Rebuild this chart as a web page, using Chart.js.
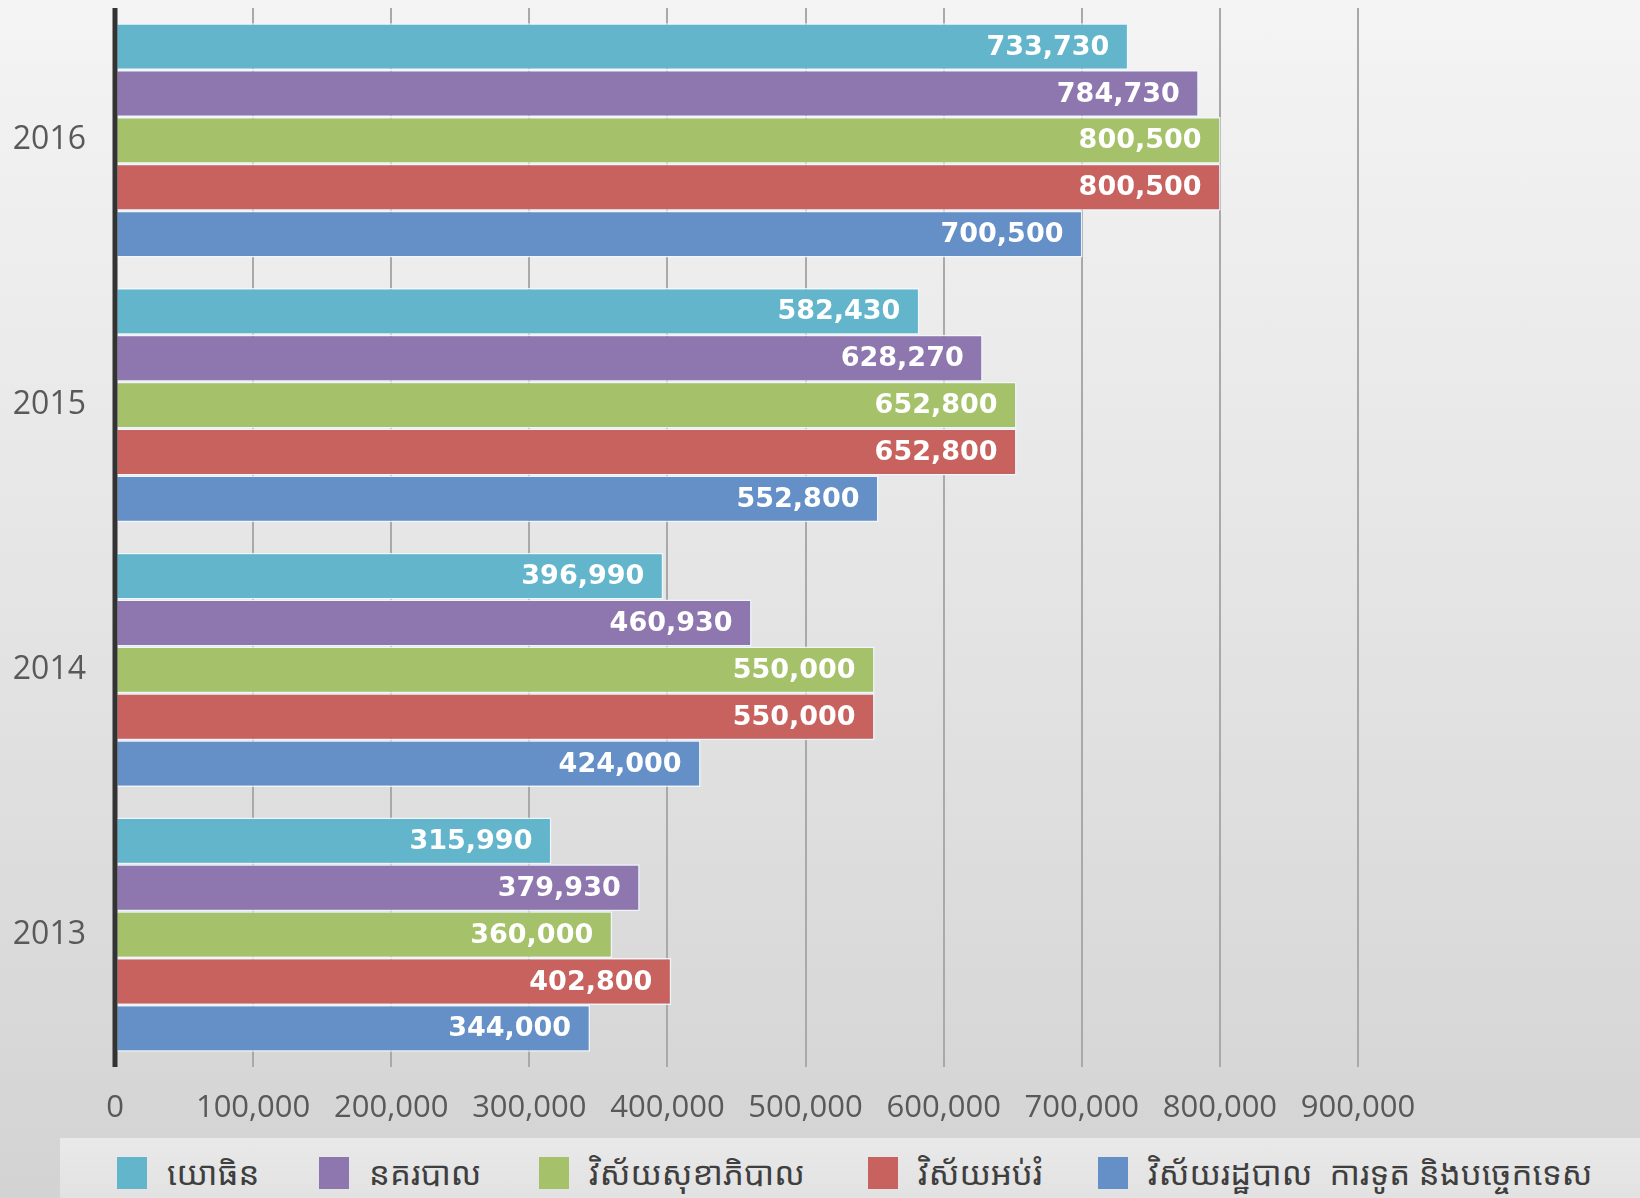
<!DOCTYPE html>
<html lang="km">
<head>
    <meta charset="UTF-8">
    <title>Budget by sector</title>
    <script src="https://cdn.jsdelivr.net/npm/chart.js@4.4.1/dist/chart.umd.min.js"></script>
    <style>
        html, body {
            margin: 0;
            padding: 0;
        }
        body {
            width: 1640px;
            height: 1198px;
            overflow: hidden;
            position: relative;
            background: linear-gradient(to bottom, #f4f4f4 0%, #e6e6e6 45%, #d3d3d3 100%);
        }
        .wrap {
            position: absolute;
            left: 0;
            top: 0;
            width: 1640px;
            height: 1138px;
        }
        .legend {
            position: absolute;
            left: 60px;
            top: 1138px;
            width: 1580px;
            height: 60px;
            background: linear-gradient(to bottom, #e9e9e9, #e2e2e2);
            font-family: "Noto Sans Khmer", "Khmer OS", "Noto Sans", sans-serif;
            font-size: 33px;
            color: #3f3f3f;
        }
        .legend .item {
            position: absolute;
            top: 12px;
            display: flex;
            align-items: center;
            white-space: pre;
        }
        .legend .box {
            width: 30px;
            height: 32px;
            margin-right: 20px;
        }
    </style>
</head>
<body>
    <div class="wrap"><canvas id="chart" width="1640" height="1138"></canvas></div>
    <div class="legend" id="legend"></div>

    <script>
        // years, top to bottom
        const years = ['2016', '2015', '2014', '2013'];
        const seriesNames = [
            'យោធិន',
            'នគរបាល',
            'វិស័យសុខាភិបាល',
            'វិស័យអប់រំ',
            'វិស័យរដ្ឋបាល  ការទូត និងបច្ចេកទេស'
        ];
        const military = [733730, 582430, 396990, 315990];
        const police = [784730, 628270, 460930, 379930];
        const health = [800500, 652800, 550000, 360000];
        const education = [800500, 652800, 550000, 402800];
        const admin = [700500, 552800, 424000, 344000];
        const colors = ['#62b5cb', '#8e76ae', '#a5c26a', '#c8625f', '#6490c7'];
        const legendLeft = [57, 259, 479, 808, 1038];

        const seriesData = [military, police, health, education, admin];

        // values written inside the bar ends, and the y axis line on top of the bars
        const valueLabels = {
            id: 'valueLabels',
            afterDatasetsDraw(chart) {
                const ctx = chart.ctx;
                const area = chart.chartArea;
                ctx.save();
                ctx.strokeStyle = '#333333';
                ctx.lineWidth = 5;
                ctx.beginPath();
                ctx.moveTo(area.left, area.top);
                ctx.lineTo(area.left, area.bottom);
                ctx.stroke();

                ctx.font = 'bold 27px "DejaVu Sans", sans-serif';
                ctx.fillStyle = '#ffffff';
                ctx.textAlign = 'right';
                ctx.textBaseline = 'middle';
                chart.data.datasets.forEach((ds, i) => {
                    chart.getDatasetMeta(i).data.forEach((bar, j) => {
                        ctx.fillText(ds.data[j].toLocaleString('en-US'), bar.x - 19, bar.y + 1);
                    });
                });
                ctx.restore();
            }
        };

        Chart.defaults.font.family = '"Open Sans", sans-serif';
        Chart.defaults.color = '#595959';

        new Chart(document.getElementById('chart'), {
            type: 'bar',
            data: {
                labels: years,
                datasets: seriesData.map((d, i) => ({
                    label: seriesNames[i],
                    data: d,
                    backgroundColor: colors[i],
                    borderColor: 'rgba(240, 248, 255, 0.9)',
                    borderWidth: 1.5,
                    borderSkipped: false,
                    categoryPercentage: 0.885,
                    barPercentage: 1.0
                }))
            },
            options: {
                indexAxis: 'y',
                responsive: false,
                animation: false,
                layout: {
                    padding: { top: 8, right: 282, bottom: 0, left: 0 }
                },
                plugins: {
                    legend: { display: false },
                    tooltip: { enabled: false }
                },
                scales: {
                    x: {
                        min: 0,
                        max: 900000,
                        ticks: {
                            stepSize: 100000,
                            padding: 23,
                            font: { size: 31 },
                            callback: v => v.toLocaleString('en-US')
                        },
                        grid: {
                            color: '#a9a9a9',
                            lineWidth: 2,
                            tickLength: 0
                        },
                        border: { display: false },
                        afterFit: s => { s.height = 71; }
                    },
                    y: {
                        ticks: {
                            padding: 21,
                            font: { size: 32 }
                        },
                        grid: { display: false },
                        border: { display: false },
                        afterFit: s => {
                            s.width = 115;
                            s.paddingTop = 0;
                            s.paddingBottom = 0;
                        }
                    }
                }
            },
            plugins: [valueLabels]
        });

        // legend strip under the chart
        const legend = document.getElementById('legend');
        seriesNames.forEach((name, i) => {
            const item = document.createElement('div');
            item.className = 'item';
            item.style.left = legendLeft[i] + 'px';
            item.innerHTML = '<span class="box" style="background:' + colors[i] + '"></span><span></span>';
            item.lastChild.textContent = name;
            legend.appendChild(item);
        });
    </script>
</body>
</html>
